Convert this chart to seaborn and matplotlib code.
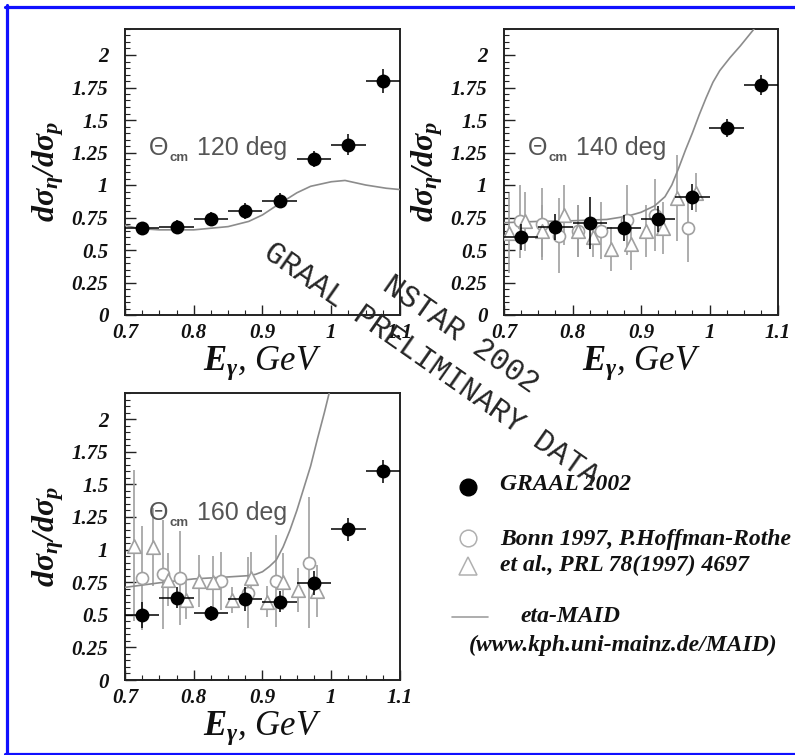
import numpy as np
import pandas as pd
import matplotlib
matplotlib.use("Agg")
import matplotlib.pyplot as plt
import seaborn as sns
from matplotlib.ticker import MultipleLocator, FuncFormatter
from matplotlib.lines import Line2D

# ---------------- data ----------------
E_graal = [0.725, 0.775, 0.825, 0.875, 0.925, 0.975, 1.025, 1.075]
E_graal_err = [0.025] * 8

graal_120 = [0.67, 0.68, 0.74, 0.80, 0.88, 1.20, 1.31, 1.80]
graal_120_err = [0.04, 0.05, 0.05, 0.06, 0.06, 0.06, 0.08, 0.09]
graal_140 = [0.60, 0.68, 0.71, 0.67, 0.74, 0.905, 1.44, 1.77]
graal_140_err = [0.10, 0.10, 0.20, 0.10, 0.10, 0.10, 0.07, 0.08]
graal_160 = [0.50, 0.63, 0.51, 0.62, 0.60, 0.745, 1.155, 1.60]
graal_160_err = [0.10, 0.08, 0.06, 0.09, 0.08, 0.09, 0.09, 0.09]

bonn_c_140_E = [0.723, 0.755, 0.781, 0.808, 0.841, 0.880, 0.920, 0.969]
bonn_c_140 = [0.72, 0.70, 0.61, 0.65, 0.65, 0.73, 0.77, 0.67]
bonn_c_140_err = [0.28, 0.28, 0.29, 0.20, 0.22, 0.27, 0.28, 0.26]
bonn_t_140_E = [0.707, 0.731, 0.756, 0.788, 0.808, 0.830, 0.856, 0.885, 0.908, 0.932, 0.952, 0.980]
bonn_t_140 = [0.63, 0.72, 0.65, 0.77, 0.65, 0.60, 0.51, 0.55, 0.65, 0.67, 0.90, 0.94]
bonn_t_140_err = [0.31, 0.23, 0.20, 0.23, 0.20, 0.15, 0.17, 0.20, 0.20, 0.20, 0.33, 0.15]

bonn_c_160_E = [0.724, 0.755, 0.780, 0.840, 0.879, 0.920, 0.967]
bonn_c_160 = [0.78, 0.81, 0.78, 0.76, 0.67, 0.76, 0.90]
bonn_c_160_err = [0.40, 0.42, 0.36, 0.22, 0.27, 0.35, 0.50]
bonn_t_160_E = [0.713, 0.740, 0.763, 0.788, 0.807, 0.828, 0.856, 0.883, 0.906, 0.930, 0.951, 0.979]
bonn_t_160 = [1.03, 1.02, 0.77, 0.615, 0.76, 0.75, 0.615, 0.78, 0.60, 0.755, 0.69, 0.68]
bonn_t_160_err = [0.58, 0.30, 0.20, 0.15, 0.20, 0.20, 0.10, 0.20, 0.12, 0.22, 0.17, 0.20]

maid_120_E = [0.70, 0.72, 0.75, 0.80, 0.85, 0.88, 0.90, 0.92, 0.95, 0.97, 1.00, 1.02, 1.05, 1.08, 1.10]
maid_120 = [0.69, 0.665, 0.655, 0.655, 0.68, 0.72, 0.77, 0.84, 0.94, 0.99, 1.025, 1.035, 1.00, 0.975, 0.965]
maid_140_E = [0.70, 0.75, 0.80, 0.85, 0.88, 0.90, 0.92, 0.935, 0.945, 0.955, 0.965, 0.975,
              0.985, 0.995, 1.005, 1.015, 1.03, 1.045, 1.065]
maid_140 = [0.71, 0.72, 0.725, 0.735, 0.76, 0.79, 0.84, 0.91, 1.00, 1.13, 1.27, 1.40,
            1.54, 1.67, 1.79, 1.88, 1.98, 2.07, 2.20]
maid_160_E = [0.70, 0.75, 0.80, 0.85, 0.88, 0.89, 0.90, 0.91, 0.92, 0.93, 0.94, 0.95,
              0.96, 0.97, 0.98, 0.99, 0.997]
maid_160 = [0.71, 0.745, 0.775, 0.79, 0.80, 0.81, 0.83, 0.87, 0.92, 1.02, 1.15, 1.30,
            1.47, 1.64, 1.85, 2.05, 2.20]

x_ticks = [0.7, 0.8, 0.9, 1.0, 1.1]
y_ticks = [0, 0.25, 0.5, 0.75, 1, 1.25, 1.5, 1.75, 2]

# ---------------- style ----------------
sns.set_theme(style="white")
plt.rcParams['font.family'] = ['Liberation Serif', 'DejaVu Serif']
plt.rcParams['font.style'] = 'italic'
plt.rcParams['font.weight'] = 'bold'
plt.rcParams['mathtext.fontset'] = 'custom'
plt.rcParams['mathtext.rm'] = 'Liberation Serif:bold:italic'
plt.rcParams['mathtext.it'] = 'Liberation Serif:bold:italic'
plt.rcParams['mathtext.bf'] = 'Liberation Serif:bold:italic'

W, H = 795, 755
fig = plt.figure(figsize=(W / 100, H / 100), dpi=100)
fig.patch.set_facecolor('white')


def frac_rect(left, top, right, bottom):
    return [left / W, 1 - bottom / H, (right - left) / W, (bottom - top) / H]


panels = [
    dict(rect=frac_rect(125, 29, 400, 315), angle="120", graal=graal_120, gerr=graal_120_err,
         maid_E=maid_120_E, maid=maid_120, bonn=None),
    dict(rect=frac_rect(504, 29, 778, 315), angle="140", graal=graal_140, gerr=graal_140_err,
         maid_E=maid_140_E, maid=maid_140,
         bonn=(bonn_c_140_E, bonn_c_140, bonn_c_140_err, bonn_t_140_E, bonn_t_140, bonn_t_140_err)),
    dict(rect=frac_rect(125, 393, 400, 680), angle="160", graal=graal_160, gerr=graal_160_err,
         maid_E=maid_160_E, maid=maid_160,
         bonn=(bonn_c_160_E, bonn_c_160, bonn_c_160_err, bonn_t_160_E, bonn_t_160, bonn_t_160_err)),
]

BONN_GRAY = '#a0a0a0'
MAID_GRAY = '#8c8c8c'
LABEL_GRAY = '#555555'

for p in panels:
    ax = fig.add_axes(p['rect'])
    ax.set_facecolor('white')

    if p['bonn'] is not None:
        cE, cy, ce, tE, ty, te = p['bonn']
        ax.errorbar(cE, cy, yerr=ce, fmt='none', ecolor=BONN_GRAY, elinewidth=1.2, zorder=2)
        ax.errorbar(tE, ty, yerr=te, fmt='none', ecolor=BONN_GRAY, elinewidth=1.2, zorder=2)

    sns.lineplot(x=p['maid_E'], y=p['maid'], ax=ax, color=MAID_GRAY, lw=1.2, zorder=3)

    if p['bonn'] is not None:
        sns.scatterplot(x=cE, y=cy, ax=ax, marker='o', s=75, facecolor='white',
                        edgecolor=BONN_GRAY, linewidth=1.2, zorder=4)
        sns.scatterplot(x=tE, y=ty, ax=ax, marker='^', s=95, facecolor='white',
                        edgecolor=BONN_GRAY, linewidth=1.2, zorder=4)

    ax.errorbar(E_graal, p['graal'], xerr=E_graal_err, yerr=p['gerr'], fmt='none',
                ecolor='black', elinewidth=1.1, zorder=5)
    sns.scatterplot(x=E_graal, y=p['graal'], ax=ax, marker='o', s=100, color='black',
                    edgecolor='black', linewidth=0, zorder=6)

    ax.set_xlim(0.7, 1.1)
    ax.set_ylim(0, 2.2)
    ax.set_xticks(x_ticks)
    ax.set_yticks(y_ticks)
    ax.xaxis.set_minor_locator(MultipleLocator(0.025))
    ax.yaxis.set_minor_locator(MultipleLocator(0.05))
    fmt = FuncFormatter(lambda v, pos: f"{v:g}")
    ax.xaxis.set_major_formatter(fmt)
    ax.yaxis.set_major_formatter(fmt)
    ax.tick_params(which='both', direction='in', left=True, bottom=True, top=False, right=False,
                   colors='#222222', labelcolor='#111111')
    ax.tick_params(axis='x', which='major', length=7, width=1.0, labelsize=15, pad=6)
    ax.tick_params(axis='y', which='major', length=8, width=1.0, labelsize=15, pad=12)
    ax.tick_params(which='minor', length=3.5, width=0.8)
    for s in ax.spines.values():
        s.set_color('#222222')
        s.set_linewidth(1.4)

    ax.set_xlabel(r'$E_{\gamma}$, GeV', fontsize=25, color='#111111', va='baseline')
    ax.xaxis.set_label_coords(0.5, -55 / 286)
    ax.set_ylabel(r'$d\sigma_{\eta}/d\sigma_{p}$', fontsize=23, color='#111111')
    ax.yaxis.set_label_coords(-0.215, 0.5)

    # angle tag: Theta with a small "cm" subscript, then the angle value
    sans = dict(family='Liberation Sans', style='normal', color=LABEL_GRAY)
    t_theta = ax.text(0.735, 1.23, 'Θ', fontsize=18, va='baseline', ha='left', zorder=7,
                      weight='normal', **sans)
    t_cm = ax.annotate('cm', xy=(1.0, 0.0), xycoords=t_theta, xytext=(0.5, -1),
                       textcoords='offset points', fontsize=9.5, va='baseline', ha='left',
                       weight='bold', zorder=7, **sans)
    ax.annotate(' ' + p['angle'] + ' deg', xy=(1.0, 0.0), xycoords=(t_cm, t_theta),
                xytext=(1, 0), textcoords='offset points', fontsize=18,
                va='bottom', ha='left', weight='normal', zorder=7, **sans)

# ---------------- watermark ----------------
wm = dict(family='Liberation Mono', style='normal', weight='normal', fontsize=22,
          color='#262626', rotation=-35, rotation_mode='anchor', ha='left', va='baseline',
          zorder=10)
fig.text(262 / W, 1 - 256 / H, 'GRAAL PRELIMINARY DATA', **wm)
fig.text(381 / W, 1 - 289 / H, 'NSTAR 2002', **wm)

# ---------------- legend ----------------
def fx(px):
    return px / W


def fy(py):
    return 1 - py / H


fig.add_artist(Line2D([fx(468)], [fy(487)], marker='o', ms=12, color='black',
                      mec='black', transform=fig.transFigure))
fig.add_artist(Line2D([fx(468)], [fy(538)], marker='o', ms=12, mfc='white',
                      mec='#b0b0b0', mew=1.1, lw=0, transform=fig.transFigure))
fig.add_artist(Line2D([fx(468)], [fy(566)], marker='^', ms=13, mfc='white',
                      mec='#b0b0b0', mew=1.1, lw=0, transform=fig.transFigure))
fig.add_artist(Line2D([fx(452), fx(488)], [fy(617), fy(617)], color='#a0a0a0', lw=1.2,
                      transform=fig.transFigure))

leg = dict(fontsize=17, color='#111111', va='center', ha='left')
fig.text(fx(500), fy(485), 'GRAAL 2002', **leg)
fig.text(fx(500), fy(540), 'Bonn 1997, P.Hoffman-Rothe', **leg)
fig.text(fx(500), fy(565), 'et al., PRL 78(1997) 4697', **leg)
fig.text(fx(520), fy(617), 'eta-MAID', **leg)
fig.text(fx(469), fy(645), '(www.kph.uni-mainz.de/MAID)', **leg)

# ---------------- frame ----------------
blue = '#1010ff'
fig.add_artist(Line2D([fx(6.5), fx(6.5)], [fy(5), fy(755)], color=blue, lw=2.3,
                      transform=fig.transFigure))
fig.add_artist(Line2D([fx(5), fx(795)], [fy(6.5), fy(6.5)], color=blue, lw=2.3,
                      transform=fig.transFigure))
fig.add_artist(Line2D([fx(5), fx(795)], [fy(753.5), fy(753.5)], color=blue, lw=2.3,
                      transform=fig.transFigure))

fig.savefig('out.png', dpi=100, facecolor='white')
